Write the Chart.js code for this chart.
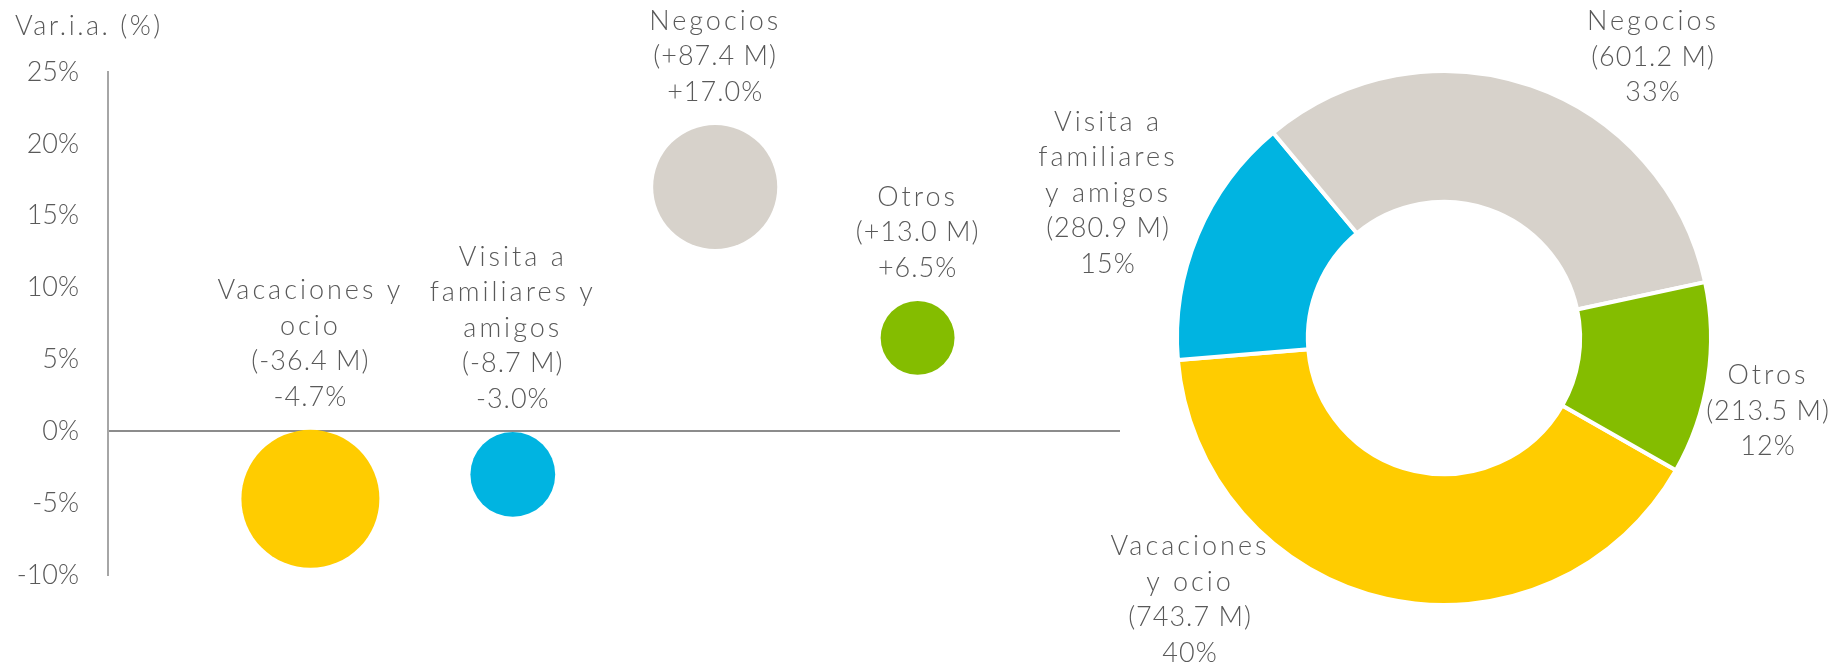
<!DOCTYPE html>
<html>
<head>
<meta charset="utf-8">
<script src="https://cdn.jsdelivr.net/npm/chart.js@4.4.0/dist/chart.umd.min.js"></script>
<style>
  html, body { margin: 0; padding: 0; background: #fff; }
  #wrap { position: relative; width: 1829px; height: 662px; overflow: hidden; }
  #bubble-wrap { position: absolute; left: 0; top: 0; width: 1140px; height: 662px; }
  #donut-wrap { position: absolute; left: 990px; top: 0; width: 839px; height: 662px; }
</style>
</head>
<body>
<div id="wrap">
  <div id="bubble-wrap"><canvas id="bubble-chart"></canvas></div>
  <div id="donut-wrap"><canvas id="donut-chart"></canvas></div>
</div>
<script>
// Data
const categories = ['Vacaciones y ocio', 'Visita a familiares y amigos', 'Negocios', 'Otros'];
const bubbleNames = [['Vacaciones y', 'ocio'], ['Visita a', 'familiares y', 'amigos'], ['Negocios'], ['Otros']];
const donutNames = [['Vacaciones', 'y ocio'], ['Visita a', 'familiares', 'y amigos'], ['Negocios'], ['Otros']];
const xPos = [1, 2, 3, 4];
const changePct = [-4.7, -3.0, 17.0, 6.5];
const changeM = [-36.4, -8.7, 87.4, 13.0];
const totalM = [743.7, 280.9, 601.2, 213.5];
const sharePct = [40, 15, 33, 12];
const yTicks = [-10, -5, 0, 5, 10, 15, 20, 25];
const yTitle = 'Var.i.a. (%)';

const colors = ['#FFCC00', '#00B4E1', '#D7D2CB', '#84BD00'];
const textColor = '#595959';
const FONT = "'Lato', 'Open Sans', sans-serif";
const FONT_SIZE = 27;
const LINE = 35.5;

Chart.defaults.font.family = FONT;
Chart.defaults.font.weight = 300;
Chart.defaults.color = textColor;

const signed = v => (v > 0 ? '+' : '') + v.toFixed(1);

// text lines: names get wide spacing, numbers almost none
function drawLines(ctx, items, x, yFirst) {
    items.forEach((it, k) => {
        ctx.letterSpacing = it.num ? '1px' : '3px';
        ctx.fillText(it.t, x, yFirst + k * LINE);
    });
}

function labelItems(names, mLine, pctLine) {
    return [...names.map(t => ({ t: t, num: false })), { t: mLine, num: true }, { t: pctLine, num: true }];
}

document.addEventListener('DOMContentLoaded', () => {
    // bubble labels + axis title
    const bubbleLabels = {
        id: 'bubbleLabels',
        afterDatasetsDraw(chart) {
            const ctx = chart.ctx;
            const meta = chart.getDatasetMeta(0);
            ctx.save();
            ctx.font = `300 ${FONT_SIZE}px ${FONT}`;
            ctx.letterSpacing = '2.5px';
            ctx.fillStyle = textColor;
            ctx.textAlign = 'left';
            ctx.textBaseline = 'middle';
            ctx.fillText(yTitle, 15, 26);
            ctx.textAlign = 'center';
            meta.data.forEach((el, i) => {
                const items = labelItems(bubbleNames[i], '(' + signed(changeM[i]) + ' M)', signed(changePct[i]) + '%');
                const bottom = el.y - el.options.radius - 33;
                drawLines(ctx, items, el.x, bottom - (items.length - 1) * LINE);
            });
            ctx.restore();
        }
    };

    new Chart(document.getElementById('bubble-chart'), {
        type: 'bubble',
        data: {
            datasets: [{
                data: xPos.map((x, i) => ({ x: x, y: changePct[i], r: Math.sqrt(totalM[i]) * 2.53 })),
                backgroundColor: colors,
                borderWidth: 0,
                hoverRadius: 0
            }]
        },
        options: {
            responsive: true,
            maintainAspectRatio: false,
            animation: false,
            layout: { autoPadding: false, padding: { top: 72, bottom: 87, left: 0, right: 20 } },
            scales: {
                x: { type: 'linear', min: 0, max: 5, display: false },
                y: {
                    min: -10,
                    max: 25,
                    afterBuildTicks: s => { s.ticks = yTicks.map(v => ({ value: v })); },
                    afterFit: s => { s.width = 108; },
                    grid: {
                        color: c => (c.tick && c.tick.value === 0) ? '#8c8c8c' : 'rgba(0,0,0,0)',
                        lineWidth: 2,
                        drawTicks: false
                    },
                    border: { display: true, color: '#a6a6a6', width: 2 },
                    ticks: {
                        padding: 29,
                        color: textColor,
                        font: { size: FONT_SIZE, weight: 300 },
                        callback: v => v + '%'
                    }
                }
            },
            plugins: { legend: { display: false }, tooltip: { enabled: false } }
        },
        plugins: [bubbleLabels]
    });

    // doughnut labels, offsets from the centre
    const labelOffsets = [[-254, 262], [-336, -145], [209, -281], [324, 73]];
    const donutLabels = {
        id: 'donutLabels',
        afterDatasetsDraw(chart) {
            const ctx = chart.ctx;
            const arc = chart.getDatasetMeta(0).data[0];
            ctx.save();
            ctx.font = `300 ${FONT_SIZE}px ${FONT}`;
            ctx.fillStyle = textColor;
            ctx.textAlign = 'center';
            ctx.textBaseline = 'middle';
            donutNames.forEach((name, i) => {
                const items = labelItems(name, '(' + totalM[i].toFixed(1) + ' M)', sharePct[i] + '%');
                const cx = arc.x + labelOffsets[i][0];
                const cy = arc.y + labelOffsets[i][1];
                drawLines(ctx, items, cx, cy - (items.length - 1) * LINE / 2);
            });
            ctx.restore();
        }
    };

    new Chart(document.getElementById('donut-chart'), {
        type: 'doughnut',
        data: {
            labels: categories,
            datasets: [{
                data: totalM,
                backgroundColor: colors,
                borderColor: '#ffffff',
                borderWidth: 4,
                hoverOffset: 0
            }]
        },
        options: {
            responsive: true,
            maintainAspectRatio: false,
            animation: false,
            rotation: 119.7,
            cutout: '51%',
            layout: { padding: { left: 185, right: 116, top: 69, bottom: 55 } },
            plugins: { legend: { display: false }, tooltip: { enabled: false } }
        },
        plugins: [donutLabels]
    });
});
</script>
</body>
</html>
